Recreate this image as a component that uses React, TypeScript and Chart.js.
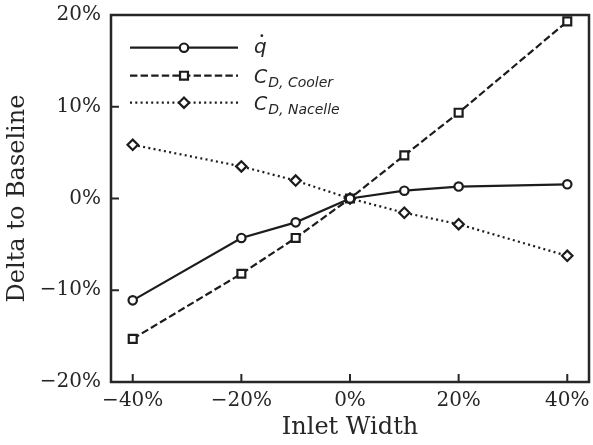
import React, { useEffect, useRef } from "react";
import { Chart, registerables } from "chart.js";

Chart.register(...registerables);

// ---- data ----
const inletWidth = [-40, -20, -10, 0, 10, 20, 40];
const qDot = [-11.1, -4.3, -2.6, 0, 0.85, 1.3, 1.55];
const cdCooler = [-15.3, -8.2, -4.3, 0, 4.7, 9.35, 19.3];
const cdNacelle = [5.85, 3.5, 1.95, 0, -1.55, -2.8, -6.25];

const xTicks = [-40, -20, 0, 20, 40];
const yTicks = [-20, -10, 0, 10, 20];
const xTitle = "Inlet Width";
const yTitle = "Delta to Baseline";

const seriesMain = ["q", "C", "C"];
const seriesSub = ["", "D, Cooler", "D, Nacelle"];

const INK = "#1c1c1c";
const TXT = "#262626";
const SERIF = "'DejaVu Serif', serif";
const SANS = "'DejaVu Sans', sans-serif";

const DASHES: number[][] = [[], [7.4, 3.2], [2, 3.3]];
const STYLES = ["circle", "rect", "rectRot"];
const RADII = [4.2, 5.6, 5.2];
const RIGHT_GAP = 4;

const fmt = (v: number) => (v < 0 ? "\u2212" + Math.abs(v) : String(v)) + "%";

const rightEdgePlugin = {
  id: "rightEdge",
  afterLayout(chart: any) {
    const a = chart.chartArea;
    const r = chart.width - RIGHT_GAP;
    a.right = r;
    a.width = r - a.left;
    const x = chart.scales.x;
    x.right = r;
    x.width = r - x.left;
    x.configure();
  },
};

const framePlugin = {
  id: "frameTicks",
  afterDatasetsDraw(chart: any) {
    const { ctx, chartArea: a, scales } = chart;
    ctx.save();
    ctx.strokeStyle = TXT;
    ctx.lineWidth = 2.5;
    ctx.setLineDash([]);
    ctx.strokeRect(a.left, a.top, a.right - a.left, a.bottom - a.top);
    ctx.lineWidth = 2;
    const tl = 8;
    for (const v of xTicks) {
      const px = scales.x.getPixelForValue(v);
      ctx.beginPath();
      ctx.moveTo(px, a.bottom);
      ctx.lineTo(px, a.bottom - tl);
      ctx.stroke();
    }
    for (const v of yTicks) {
      const py = scales.y.getPixelForValue(v);
      ctx.beginPath();
      ctx.moveTo(a.left, py);
      ctx.lineTo(a.left + tl, py);
      ctx.stroke();
    }
    ctx.restore();
  },
};

function drawMarker(ctx: CanvasRenderingContext2D, style: string, x: number, y: number, r: number) {
  ctx.beginPath();
  if (style === "circle") {
    ctx.arc(x, y, r, 0, Math.PI * 2);
  } else if (style === "rect") {
    const s = r * Math.SQRT1_2;
    ctx.rect(x - s, y - s, 2 * s, 2 * s);
  } else {
    ctx.moveTo(x - r, y);
    ctx.lineTo(x, y - r);
    ctx.lineTo(x + r, y);
    ctx.lineTo(x, y + r);
    ctx.closePath();
  }
  ctx.fillStyle = "#ffffff";
  ctx.fill();
  ctx.stroke();
}

const legendPlugin = {
  id: "mathLegend",
  afterDraw(chart: any) {
    const { ctx } = chart;
    const rows = [47.7, 75.7, 102.7];
    const x0 = 130, x1 = 238, xm = 184, xt = 254;
    ctx.save();
    for (let i = 0; i < 3; i++) {
      const y = rows[i];
      ctx.strokeStyle = INK;
      ctx.lineWidth = 2.2;
      ctx.lineCap = "butt";
      ctx.setLineDash(DASHES[i]);
      ctx.beginPath();
      ctx.moveTo(x0, y);
      ctx.lineTo(x1, y);
      ctx.stroke();
      ctx.setLineDash([]);
      ctx.lineWidth = 2.2;
      drawMarker(ctx, STYLES[i], xm, y, RADII[i]);

      ctx.fillStyle = TXT;
      ctx.textBaseline = "alphabetic";
      ctx.textAlign = "left";
      if (i === 0) {
        ctx.font = `italic 20px ${SANS}`;
        ctx.fillText(seriesMain[i], xt, y + 5);
        const w = ctx.measureText(seriesMain[i]).width;
        ctx.beginPath();
        ctx.arc(xt + w / 2 + 1.5, y - 12, 1.4, 0, Math.PI * 2);
        ctx.fill();
      } else {
        ctx.font = `italic 19px ${SANS}`;
        ctx.fillText(seriesMain[i], xt, y + 7);
        const w = ctx.measureText(seriesMain[i]).width;
        ctx.font = `italic 14px ${SANS}`;
        ctx.fillText(seriesSub[i], xt + w + 1, y + 11);
      }
    }
    ctx.restore();
  },
};

export default function App() {
  const ref = useRef<HTMLCanvasElement>(null);
  useEffect(() => {
    const canvas = ref.current!;
    const mk = (vals: number[]) => inletWidth.map((x, i) => ({ x, y: vals[i] }));
    const base = (i: number) => ({
      borderColor: INK,
      borderWidth: 2.2,
      borderDash: DASHES[i],
      pointStyle: STYLES[i],
      pointRadius: RADII[i],
      pointBorderWidth: 2.2,
      pointBorderColor: INK,
      pointBackgroundColor: "#ffffff",
      fill: false,
      tension: 0,
    });
    const chart = new Chart(canvas, {
      type: "line",
      data: {
        datasets: [
          { label: "q", data: mk(qDot), ...base(0) },
          { label: "CD,Cooler", data: mk(cdCooler), ...base(1) },
          { label: "CD,Nacelle", data: mk(cdNacelle), ...base(2) },
        ] as any,
      },
      options: {
        responsive: false,
        animation: false,
        devicePixelRatio: 1,
        layout: { padding: { top: 15, right: RIGHT_GAP, left: 0, bottom: 0 } },
        plugins: { legend: { display: false }, tooltip: { enabled: false } },
        scales: {
          x: {
            type: "linear",
            min: -44,
            max: 44,
            grid: { display: false, drawTicks: false, tickLength: 0 },
            border: { display: false },
            afterFit: (s: any) => {
              s.height = 63;
              s.paddingLeft = 0;
              s.paddingRight = 0;
            },
            afterBuildTicks: (s: any) => { s.ticks = xTicks.map((v) => ({ value: v })); },
            ticks: {
              padding: 0,
              color: TXT,
              font: { family: SERIF, size: 20, lineHeight: 1.9 },
              callback: (v: any) => fmt(Number(v)),
              maxRotation: 0,
            },
            title: {
              display: true,
              text: xTitle,
              color: TXT,
              font: { family: SERIF, size: 24 },
              padding: { top: 0, bottom: 2.6 },
            },
          },
          y: {
            type: "linear",
            min: -20,
            max: 20,
            grid: { display: false, drawTicks: false, tickLength: 0 },
            border: { display: false },
            afterFit: (s: any) => {
              s.width = 111;
              s.paddingTop = 0;
              s.paddingBottom = 0;
            },
            afterBuildTicks: (s: any) => { s.ticks = yTicks.map((v) => ({ value: v })); },
            ticks: {
              padding: 10,
              color: TXT,
              font: { family: SERIF, size: 20 },
              callback: (v: any) => fmt(Number(v)),
            },
            title: {
              display: true,
              text: yTitle,
              color: TXT,
              font: { family: SERIF, size: 24 },
              padding: { top: 3.6, bottom: 0 },
            },
          },
        },
      } as any,
      plugins: [rightEdgePlugin, framePlugin, legendPlugin],
    });
    return () => chart.destroy();
  }, []);
  return (
    <div style={{ position: "fixed", left: 0, top: 0, width: 593, height: 445, background: "#fff" }}>
      <canvas ref={ref} width={593} height={445} style={{ display: "block", width: 593, height: 445 }} />
    </div>
  );
}
